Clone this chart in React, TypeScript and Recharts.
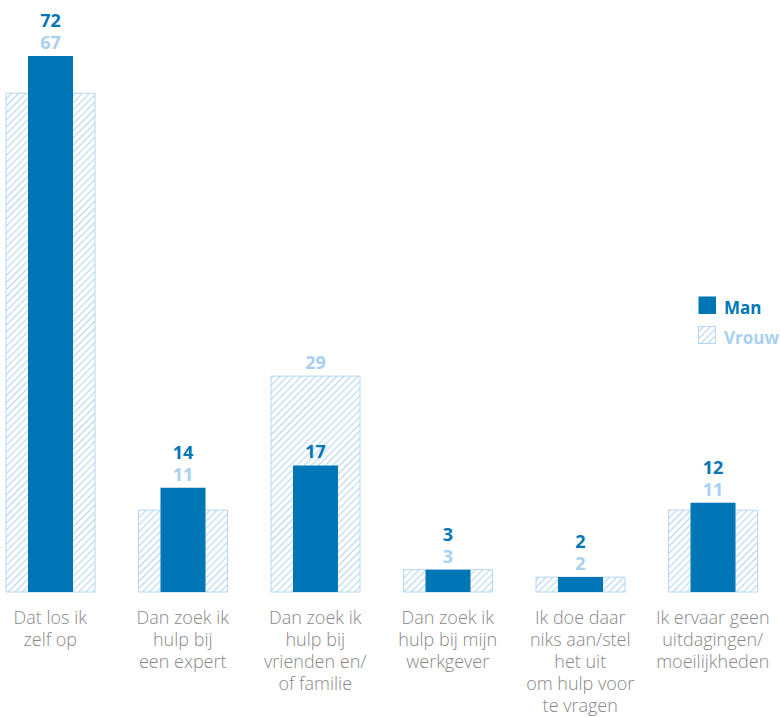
import React from "react";
import { BarChart, Bar, XAxis, YAxis, LabelList, Legend } from "recharts";

const CATEGORIES: string[] = [
  "Dat los ik\nzelf op",
  "Dan zoek ik\nhulp bij\neen expert",
  "Dan zoek ik\nhulp bij\nvrienden en/\nof familie",
  "Dan zoek ik\nhulp bij mijn\nwerkgever",
  "Ik doe daar\nniks aan/stel\nhet uit\nom hulp voor\nte vragen",
  "Ik ervaar geen\nuitdagingen/\nmoeilijkheden",
];
const MAN: number[] = [72, 14, 17, 3, 2, 12];
const VROUW: number[] = [67, 11, 29, 3, 2, 11];
const SERIES_NAMES = ["Man", "Vrouw"];

const DARK = "#0076b6";
const LIGHT = "#a9d0f1";
const HATCH = "#b4d6f3";
const GRAY = "#888888";
const FONT = "'Open Sans', 'Noto Sans', sans-serif";

const data = CATEGORIES.map((c, i) => ({ name: c, man: MAN[i], vrouw: VROUW[i] }));

const CategoryTick = (props: any) => {
  const { x, y, payload } = props;
  const lines = String(payload.value).split("\n");
  return (
    <text
      x={x}
      y={y}
      textAnchor="middle"
      fill={GRAY}
      fontFamily={FONT}
      fontSize={18}
      fontWeight={300}
    >
      {lines.map((l, i) => (
        <tspan key={i} x={x} dy={i === 0 ? 2 : 22}>
          {l}
        </tspan>
      ))}
    </text>
  );
};

const ValueLabels = (props: any) => {
  const { x, y, width, height, index } = props;
  const man = MAN[index];
  const vrouw = VROUW[index];
  const cx = x + width / 2;
  const base = y + height;
  const ppu = man > 0 ? height / man : 0;
  const vrouwTop = base - vrouw * ppu;
  const manTop = y;
  let vrouwY: number;
  let manY: number;
  if (man >= vrouw) {
    vrouwY = manTop - 7;
    manY = vrouwY - 22;
  } else {
    vrouwY = vrouwTop - 7;
    manY = manTop - 7;
  }
  return (
    <g fontFamily={FONT} fontSize={18} fontWeight={700} textAnchor="middle">
      <text x={cx} y={vrouwY} fill={LIGHT}>
        {vrouw}
      </text>
      <text x={cx} y={manY} fill={DARK}>
        {man}
      </text>
    </g>
  );
};

const LegendContent = () => (
  <svg width={90} height={50} style={{ overflow: "visible" }}>
    <rect x={0.5} y={0.5} width={17.5} height={17.5} fill={DARK} />
    <text x={26} y={18} fill={DARK} fontFamily={FONT} fontSize={17} fontWeight={700}>
      {SERIES_NAMES[0]}
    </text>
    <rect x={0.5} y={30.5} width={17} height={17} fill="url(#hatchV)" stroke={HATCH} strokeWidth={1} />
    <text x={26} y={48} fill={LIGHT} fontFamily={FONT} fontSize={17} fontWeight={700}>
      {SERIES_NAMES[1]}
    </text>
  </svg>
);

export default function App() {
  return (
    <div
      style={{
        position: "absolute",
        left: 0,
        top: 0,
        width: 780,
        height: 717,
        overflow: "hidden",
        background: "#fff",
      }}
    >
      <svg width={0} height={0} style={{ position: "absolute" }}>
        <defs>
          <pattern
            id="hatchV"
            patternUnits="userSpaceOnUse"
            width={5}
            height={5}
            patternTransform="rotate(45)"
          >
            <line x1={0} y1={0} x2={0} y2={5} stroke={HATCH} strokeWidth={2.2} />
          </pattern>
        </defs>
      </svg>
      <div style={{ position: "absolute", left: -16, top: 0 }}>
        <BarChart
          width={795}
          height={717}
          data={data}
          margin={{ top: 56, right: 0, bottom: 0, left: 0 }}
          barGap={0}
        >
          <XAxis
            xAxisId="v"
            dataKey="name"
            height={125}
            axisLine={false}
            tickLine={false}
            tickSize={0}
            tickMargin={0}
            interval={0}
            tick={<CategoryTick />}
          />
          <XAxis xAxisId="m" dataKey="name" hide />
          <YAxis hide domain={[0, 72]} type="number" />
          <Legend
            layout="vertical"
            align="center"
            verticalAlign="middle"
            content={<LegendContent />}
            wrapperStyle={{ position: "absolute", left: 714, top: 296, width: 90, height: 50 }}
          />
          <Bar
            xAxisId="v"
            dataKey="vrouw"
            name={SERIES_NAMES[1]}
            barSize={89}
            fill="url(#hatchV)"
            stroke={HATCH}
            strokeWidth={1}
            isAnimationActive={false}
          />
          <Bar
            xAxisId="m"
            dataKey="man"
            name={SERIES_NAMES[0]}
            barSize={45}
            fill={DARK}
            isAnimationActive={false}
          >
            <LabelList dataKey="man" content={<ValueLabels />} />
          </Bar>
        </BarChart>
      </div>
    </div>
  );
}
